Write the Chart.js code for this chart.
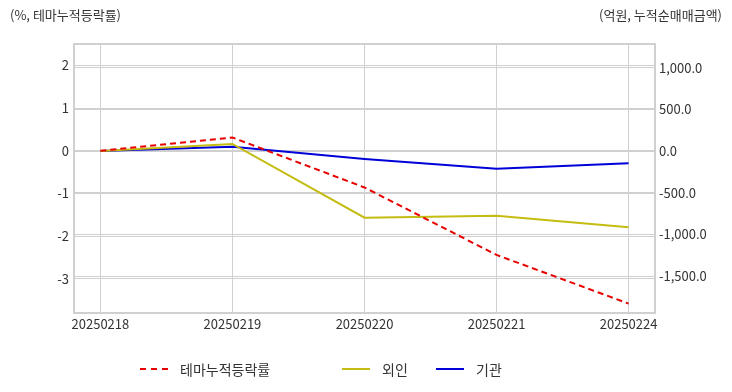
<!DOCTYPE html>
<html>
<head>
<meta charset="utf-8">
<script src="https://cdn.jsdelivr.net/npm/chart.js@4"></script>
<style>
  html, body { margin: 0; padding: 0; background: #fff; }
  body { width: 732px; height: 392px; position: relative; overflow: hidden;
         font-family: "Noto Sans CJK KR", "Noto Sans", sans-serif; color: #333; }
  #wrap { position: absolute; left: 0; top: 0; width: 732px; height: 392px; }
  .unit { position: absolute; top: 5px; font-size: 13px; color: #333; }
  #legend { position: absolute; top: 359px; left: 0; width: 732px; height: 20px; font-size: 14px; color: #333; }
  .item { position: absolute; top: 0; height: 20px; line-height: 20px; }
  .swatch { position: absolute; top: 9px; width: 28px; height: 0; }
</style>
</head>
<body>
<div id="wrap"><canvas id="chart" width="732" height="392"></canvas></div>
<div class="unit" style="left:10px;">(%, 테마누적등락률)</div>
<div class="unit" style="right:10px;">(억원, 누적순매매금액)</div>
<div id="legend"></div>

<script>
let dates = ["20250218", "20250219", "20250220", "20250221", "20250224"];
let themeRate = [0, 0.31, -0.86, -2.44, -3.58];
let foreignNet = [0, 84, -800, -777, -916];
let instNet = [0, 52, -96, -212, -148];

let leftTicks = [-3, -2, -1, 0, 1, 2];
let rightTicks = [-1500, -1000, -500, 0, 500, 1000];

let seriesNames = ["테마누적등락률", "외인", "기관"];
let seriesColors = ["#e80000", "#c4bc10", "#0000d8"];

let toPoints = (values) => values.map((v, i) => ({ x: i, y: v }));

// frame round the plot area
let frame = {
    id: "frame",
    afterDraw(chart) {
        let a = chart.chartArea;
        let ctx = chart.ctx;
        ctx.save();
        ctx.strokeStyle = "#d0d0d0";
        ctx.lineWidth = 2;
        ctx.strokeRect(a.left, a.top, a.right - a.left, a.bottom - a.top);
        ctx.restore();
    }
};

let tickFont = { family: "'Noto Sans CJK KR', 'Noto Sans', sans-serif", size: 13 };

new Chart(document.getElementById("chart"), {
    type: "line",
    data: {
        datasets: [
            {
                label: seriesNames[0], data: toPoints(themeRate), yAxisID: "y",
                borderColor: seriesColors[0], borderWidth: 2, borderDash: [6, 4],
                pointRadius: 0, tension: 0
            },
            {
                label: seriesNames[1], data: toPoints(foreignNet), yAxisID: "y1",
                borderColor: seriesColors[1], borderWidth: 2,
                pointRadius: 0, tension: 0
            },
            {
                label: seriesNames[2], data: toPoints(instNet), yAxisID: "y1",
                borderColor: seriesColors[2], borderWidth: 2,
                pointRadius: 0, tension: 0
            }
        ]
    },
    options: {
        responsive: false,
        animation: false,
        layout: { padding: { top: 44, bottom: 49, left: 0, right: 0 } },
        plugins: { legend: { display: false }, tooltip: { enabled: false } },
        scales: {
            x: {
                type: "linear", min: -0.2, max: 4.2,
                afterFit: (s) => { s.height = 30; },
                afterBuildTicks: (s) => { s.ticks = dates.map((d, i) => ({ value: i })); },
                grid: { color: "#d0d0d0", drawTicks: false },
                border: { display: false },
                ticks: {
                    padding: 3, maxRotation: 0, autoSkip: false,
                    color: "#333", font: tickFont,
                    callback: (v) => dates[v] || ""
                }
            },
            y: {
                position: "left", min: -3.8, max: 2.5,
                afterFit: (s) => { s.width = 74; },
                afterBuildTicks: (s) => { s.ticks = leftTicks.map((v) => ({ value: v })); },
                grid: { color: "#d0d0d0", drawTicks: false },
                border: { display: false },
                ticks: { padding: 5, color: "#333", font: tickFont }
            },
            y1: {
                position: "right", min: -1944, max: 1284,
                afterFit: (s) => { s.width = 77; },
                afterBuildTicks: (s) => { s.ticks = rightTicks.map((v) => ({ value: v })); },
                grid: { color: "#d0d0d0", drawTicks: false },
                border: { display: false },
                ticks: {
                    padding: 4, color: "#333", font: tickFont,
                    callback: (v) => v.toLocaleString("en-US", { minimumFractionDigits: 1, maximumFractionDigits: 1 })
                }
            }
        }
    },
    plugins: [frame]
});

// legend drawn in html so the gaps can match
let legendBox = document.getElementById("legend");
let legendX = [140, 342, 436];
seriesNames.forEach((name, i) => {
    let sw = document.createElement("div");
    sw.className = "swatch";
    sw.style.left = legendX[i] + "px";
    sw.style.borderTop = (i === 0 ? "2px dashed " : "2px solid ") + seriesColors[i];
    legendBox.appendChild(sw);
    let txt = document.createElement("div");
    txt.className = "item";
    txt.style.left = (legendX[i] + 40) + "px";
    txt.textContent = name;
    legendBox.appendChild(txt);
});
</script>
</body>
</html>
